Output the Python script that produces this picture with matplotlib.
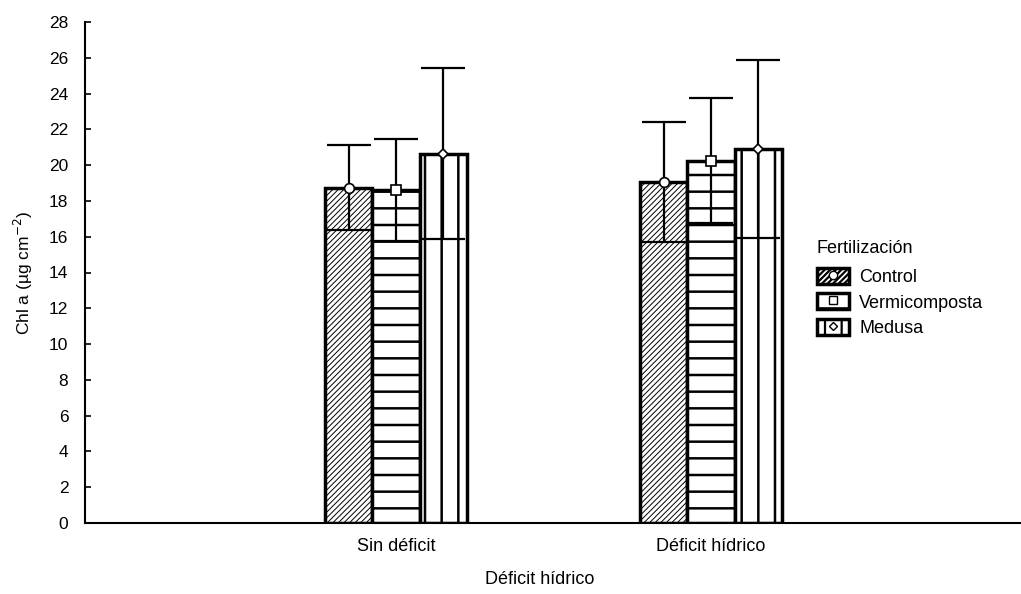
import matplotlib
matplotlib.use("Agg")
import matplotlib.pyplot as plt
import numpy as np
from matplotlib.patches import Patch
from matplotlib.lines import Line2D

plt.rcParams['font.family'] = ['Liberation Sans', 'DejaVu Sans']
plt.rcParams['hatch.linewidth'] = 1.6

categories = ["Sin déficit", "Déficit hídrico"]
series = ["Control", "Vermicomposta", "Medusa"]
means = {
    "Control": [18.75, 19.05],
    "Vermicomposta": [18.6, 20.25],
    "Medusa": [20.65, 20.9],
}
errors = {
    "Control": [2.4, 3.35],
    "Vermicomposta": [2.85, 3.5],
    "Medusa": [4.8, 4.95],
}
hatches = {"Control": "//////", "Vermicomposta": "-", "Medusa": "|"}
hatch_lw = {"Control": 0.7, "Vermicomposta": 1.8, "Medusa": 1.8}
markers = {"Control": "o", "Vermicomposta": "s", "Medusa": "D"}
msizes = {"Control": 7, "Vermicomposta": 7, "Medusa": 5}
yticks = list(range(0, 29, 2))

W, H = 1021, 594
fig = plt.figure(figsize=(W / 100, H / 100), dpi=100)
ax = fig.add_axes([85 / W, 1 - 523 / H, (1021 - 85) / W, (523 - 22) / H])

x = np.arange(len(categories))
bw = 0.15
for i, s in enumerate(series):
    pos = x + (i - 1) * bw
    bars = ax.bar(pos, means[s], width=bw, facecolor="white", edgecolor="black",
                  linewidth=2.5, hatch=hatches[s], zorder=2)
    for b in bars:
        try:
            b.set_hatch_linewidth(hatch_lw[s])
        except Exception:
            pass
    ax.errorbar(pos, means[s], yerr=errors[s], fmt="none", ecolor="black",
                elinewidth=1.6, capsize=16, capthick=1.6, zorder=3)
    ax.plot(pos, means[s], linestyle="none", marker=markers[s], ms=msizes[s],
            mfc="white", mec="black", mew=1.2, zorder=4)

ax.set_xlim(-0.987, 1.984)
ax.set_ylim(0, 28)
ax.set_yticks(yticks)
ax.set_xticks(x)
ax.set_xticklabels(categories, fontsize=13)
ax.tick_params(axis="y", direction="in", length=4, width=1.2, labelsize=12.5, pad=12)
ax.tick_params(axis="x", direction="in", length=3, width=1.2, pad=11)
for sp in ["top", "right"]:
    ax.spines[sp].set_visible(False)
for sp in ["left", "bottom"]:
    ax.spines[sp].set_linewidth(1.5)

ax.set_ylabel("Chl a (µg cm$^{-2}$)", fontsize=12.5, labelpad=10)
fig.text(540 / W, 1 - 580 / H, "Déficit hídrico", ha="center", va="center", fontsize=13)

handles = []
for s in series:
    p = Patch(facecolor="white", edgecolor="black", linewidth=2.5, hatch=hatches[s])
    try:
        p.set_hatch_linewidth(hatch_lw[s])
    except Exception:
        pass
    m = Line2D([], [], linestyle="none", marker=markers[s], ms=msizes[s] - 1,
               mfc="white", mec="black", mew=1.0)
    handles.append((p, m))
leg = fig.legend(handles, series, loc="upper left", bbox_to_anchor=(804 / W, 1 - 227 / H),
                 frameon=False, fontsize=13, title="Fertilización", title_fontsize=13,
                 handlelength=1.8, handleheight=1.0, handletextpad=0.55,
                 labelspacing=0.4, borderpad=0.2)
leg._legend_box.align = "left"
leg._legend_box.sep = 8

fig.savefig("out.png", dpi=100)
